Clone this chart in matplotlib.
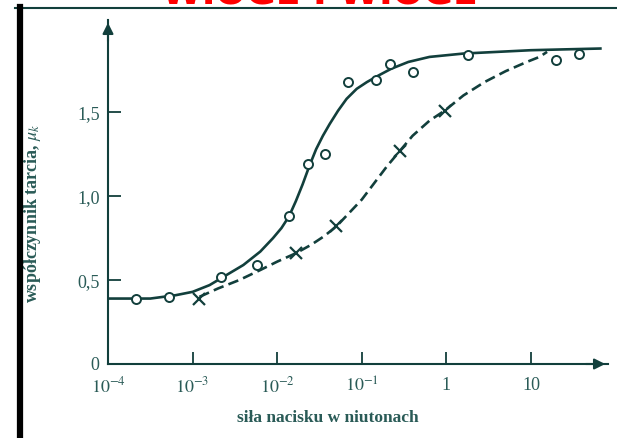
import numpy as np
import matplotlib
matplotlib.use("Agg")
import matplotlib.pyplot as plt
from matplotlib.lines import Line2D
from matplotlib.ticker import NullLocator

# dane (x jako wykladnik log10 sily w N)
solid_logx = [-4.0, -3.5, -3.2, -3.0, -2.8, -2.6, -2.4, -2.2, -2.05, -1.95,
              -1.86, -1.78, -1.70, -1.62, -1.54, -1.46, -1.38, -1.28, -1.18,
              -1.06, -0.94, -0.80, -0.65, -0.45, -0.20, 0.2, 0.6, 1.0, 1.4, 1.82]
solid_mu = [0.39, 0.39, 0.41, 0.43, 0.47, 0.53, 0.59, 0.67, 0.75, 0.81,
            0.88, 0.97, 1.07, 1.18, 1.28, 1.36, 1.43, 1.51, 1.58,
            1.64, 1.68, 1.72, 1.76, 1.80, 1.83, 1.85, 1.86, 1.87, 1.875, 1.88]

dashed_logx = [-2.92, -2.7, -2.45, -2.2, -2.0, -1.78, -1.60, -1.45, -1.30,
               -1.15, -1.0, -0.85, -0.70, -0.55, -0.40, -0.20, -0.02, 0.2,
               0.45, 0.7, 0.95, 1.10, 1.19]
dashed_mu = [0.40, 0.45, 0.50, 0.56, 0.61, 0.66, 0.71, 0.76, 0.82,
             0.90, 0.98, 1.08, 1.18, 1.27, 1.36, 1.45, 1.51, 1.60,
             1.68, 1.745, 1.80, 1.83, 1.86]

circle_logx = [-3.67, -3.28, -2.66, -2.24, -1.86, -1.64, -1.43, -1.16, -0.83,
               -0.67, -0.40, 0.26, 1.30, 1.57]
circle_mu = [0.39, 0.40, 0.52, 0.59, 0.88, 1.19, 1.25, 1.68, 1.69,
             1.79, 1.74, 1.84, 1.81, 1.85]

cross_logx = [-2.92, -1.78, -1.30, -0.55, -0.02]
cross_mu = [0.39, 0.66, 0.82, 1.27, 1.51]

xticks = [1e-4, 1e-3, 1e-2, 1e-1, 1, 10]
xticklabels = ["$10^{-4}$", "$10^{-3}$", "$10^{-2}$", "$10^{-1}$", "1", "10"]
yticks = [0, 0.5, 1.0, 1.5]
yticklabels = ["0", "0,5", "1,0", "1,5"]

INK = "#123f3c"
TEXT = "#2a5b57"

plt.rcParams["font.family"] = "serif"
plt.rcParams["font.serif"] = ["Liberation Serif", "DejaVu Serif"]
plt.rcParams["mathtext.fontset"] = "stix"

W, H = 617, 438
fig = plt.figure(figsize=(W / 100, H / 100), dpi=100)
ax = fig.add_axes([108 / W, (H - 364) / H, 500 / W, 344 / H])

ax.plot(10.0 ** np.array(solid_logx), solid_mu, color=INK, lw=1.9)
ax.plot(10.0 ** np.array(dashed_logx), dashed_mu, color=INK, lw=1.9,
        dashes=(4, 2))
ax.plot(10.0 ** np.array(circle_logx), circle_mu, "o", ms=6.5, mew=1.4,
        mfc="white", mec=INK, ls="none")
ax.plot(10.0 ** np.array(cross_logx), cross_mu, "x", ms=8, mew=1.6,
        color=INK, ls="none")

ax.set_xscale("log")
ax.set_xlim(1e-4, 10 ** 1.91)
ax.set_ylim(0, 2.05)
ax.xaxis.set_minor_locator(NullLocator())
ax.set_xticks(xticks)
ax.set_xticklabels(xticklabels)
ax.set_yticks(yticks)
ax.set_yticklabels(yticklabels)
ax.tick_params(direction="in", length=9, width=1.3, colors=INK,
               labelcolor=TEXT, labelsize=13)
ax.tick_params(axis="x", pad=9)
ax.tick_params(axis="y", pad=6)

for side in ["top", "right"]:
    ax.spines[side].set_visible(False)
for side in ["left", "bottom"]:
    ax.spines[side].set_color(INK)
    ax.spines[side].set_linewidth(1.5)

# strzalki na koncach osi
ax.annotate("", xy=(1.0, 0), xytext=(0.95, 0), xycoords="axes fraction",
            arrowprops=dict(arrowstyle="-|>", color=INK, lw=1.5,
                            mutation_scale=16))
ax.annotate("", xy=(0, 1.0), xytext=(0, 0.93), xycoords="axes fraction",
            arrowprops=dict(arrowstyle="-|>", color=INK, lw=1.5,
                            mutation_scale=16))

ax.set_xlabel("siła nacisku w niutonach", fontsize=12.5, fontweight="bold",
              color=TEXT)
ax.xaxis.set_label_coords(0.44, -0.135)
ax.set_ylabel("współczynnik tarcia, $\\mu_k$", fontsize=13,
              fontweight="bold", color=TEXT)
ax.yaxis.set_label_coords(-0.13, 0.44)

# ramka skanu
fig.add_artist(Line2D([15 / W, 1], [1 - 8 / H, 1 - 8 / H], color=INK,
                      lw=1.5, transform=fig.transFigure))
fig.add_artist(Line2D([20 / W, 20 / W], [0, 1 - 7 / H], color="black",
                      lw=4.5, transform=fig.transFigure))

# obciety czerwony tytul
fig.text(320 / W, 1 - 4 / H, "WIOGE I WIOGE", color="red", fontsize=26,
         fontweight="bold", ha="center", va="baseline", family="DejaVu Sans")

fig.savefig("out.png", dpi=100)
